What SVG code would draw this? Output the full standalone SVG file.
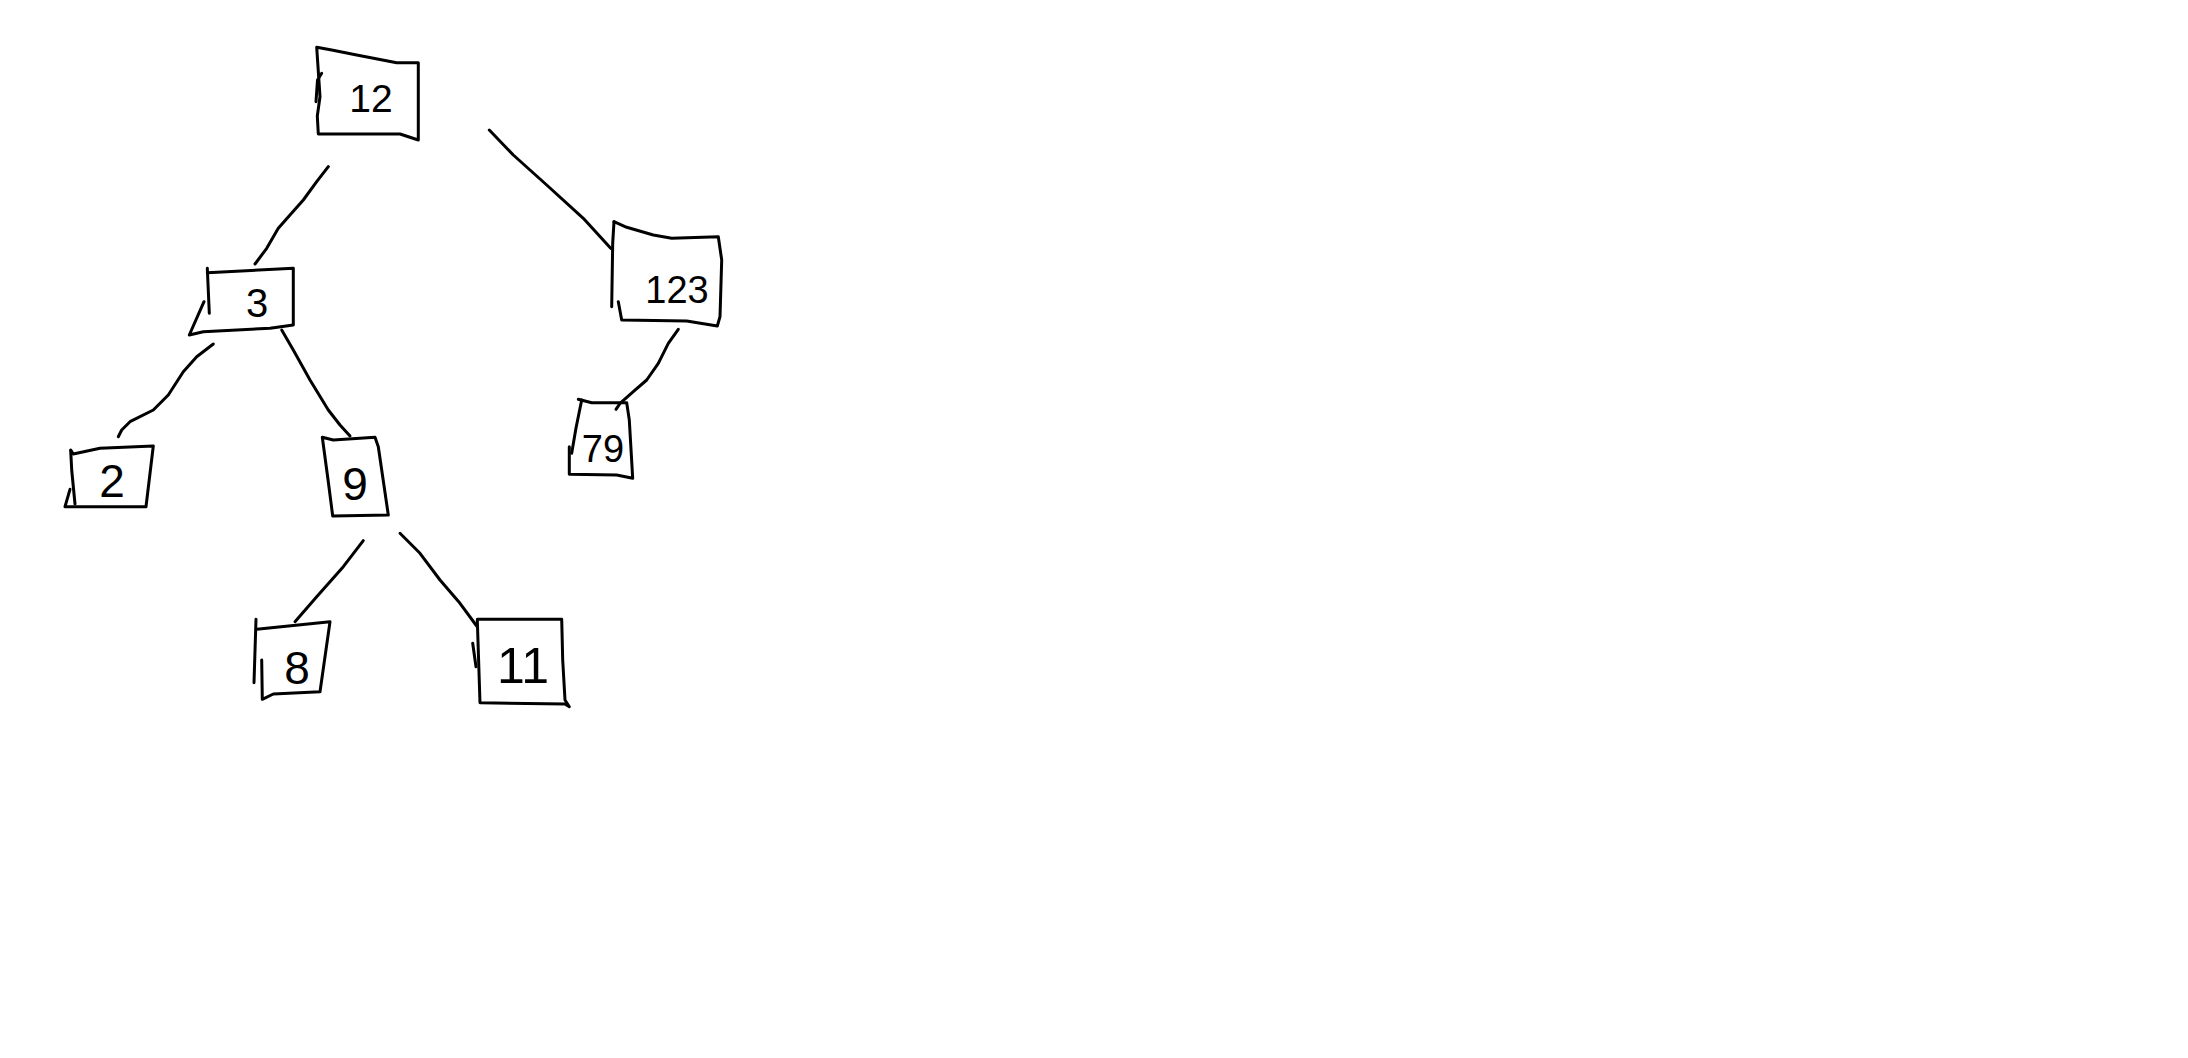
<svg xmlns="http://www.w3.org/2000/svg" width="2188" height="1058" viewBox="0 0 2188 1058">
<style>
.s{fill:none;stroke:#000;stroke-width:3;stroke-linecap:round;stroke-linejoin:round}
.t{font-family:"Liberation Sans Narrow","Liberation Sans",sans-serif;fill:#000;text-anchor:middle}
</style>
<rect width="2188" height="1058" fill="#fff"/>
<g id="connectors">
<path class="s" d="M328.3,166.7 L316.7,181.7 L303.3,200 L290,215 L278.3,228.3 L266.7,248.3 L255,264"/>
<path class="s" d="M489.3,130 L513.3,155 L546.7,185 L583.3,218.3 L610.7,248.3"/>
<path class="s" d="M213.3,344 L196.7,356.7 L183.3,371.7 L168.3,395 L153.3,410 L130,421.7 L121.7,430 L118.3,436.7"/>
<path class="s" d="M281.7,330 L293.3,350 L310,380 L328.3,410 L340,425 L350,436"/>
<path class="s" d="M678.3,329.3 L668.3,343.3 L658.3,363.3 L646.7,380 L633.3,391.7 L620,403.3 L616,409.3"/>
<path class="s" d="M363.3,540.7 L343.3,566.7 L316.7,596.7 L295,621.7"/>
<path class="s" d="M400,533.3 L420,553.3 L440,580 L460,603.3 L476.7,626"/>
</g>
<g id="node-12">
<path class="s" d="M316.7,47.3 L331.7,50 L356.7,55 L396.7,62.7 L418.3,62.7 L418.3,140 L400,134 L318.3,134 L317.3,116 L320,96.7 L316.7,47.3"/>
<path class="s" d="M316,101.7 L317.5,80 L321.7,73.3"/>
<text class="t" x="371" y="112" font-size="39">12</text>
</g>
<g id="node-3">
<path class="s" d="M207.3,268.3 L209.3,313.3"/>
<path class="s" d="M207.3,272.7 L293.3,268.3 L293.3,325 L270,328.3 L203.3,331.7 L189.3,335 L204,301.7"/>
<text class="t" x="257" y="317" font-size="40">3</text>
</g>
<g id="node-2">
<path class="s" d="M70.7,450 L73.3,454 L100,448.3 L153.3,446 L146,506.7 L65,506.7 L70,489.3"/>
<path class="s" d="M75,504 L71.7,470 L70.7,450.7"/>
<text class="t" x="112" y="497" font-size="46">2</text>
</g>
<g id="node-9">
<path class="s" d="M322.3,437.3 L333.3,440 L375,437.3 L378.3,446.7 L388.3,515 L332.7,516 L328.3,481.7 L322.3,437.3"/>
<text class="t" x="355" y="500" font-size="46">9</text>
</g>
<g id="node-123">
<path class="s" d="M614,221.7 L626.7,227.3 L653.3,235 L671.7,238.3 L718.3,236.7 L721.7,260 L720,316.7 L717.3,326 L686.7,321 L621.7,320 L618.3,301.7"/>
<path class="s" d="M614,221.7 L612.7,243.3 L611.7,306.7"/>
<text class="t" x="677" y="303" font-size="38">123</text>
</g>
<g id="node-79">
<path class="s" d="M578.3,399.3 L591.7,402.7 L626.7,402.7 L629.3,420 L632.7,478.3 L616.7,475 L569.3,474.3 L569.3,446.7"/>
<path class="s" d="M581.7,400 L576,428 L571.7,453.3"/>
<text class="t" x="603" y="462" font-size="38">79</text>
</g>
<g id="node-8">
<path class="s" d="M256,619.3 L254,682.7"/>
<path class="s" d="M256.7,629.3 L330,621.7 L320,691.7 L273.3,694 L262.3,699.3 L261.7,660"/>
<text class="t" x="297" y="684" font-size="46">8</text>
</g>
<g id="node-11">
<path class="s" d="M477.3,619.3 L561.7,619.3 L562.7,660 L565,700 L569.3,706.7 L565,704 L480,702.7 L477.3,620"/>
<path class="s" d="M472.7,643.3 L476,666.7"/>
<text class="t" x="523" y="683" font-size="50">11</text>
</g>
</svg>
